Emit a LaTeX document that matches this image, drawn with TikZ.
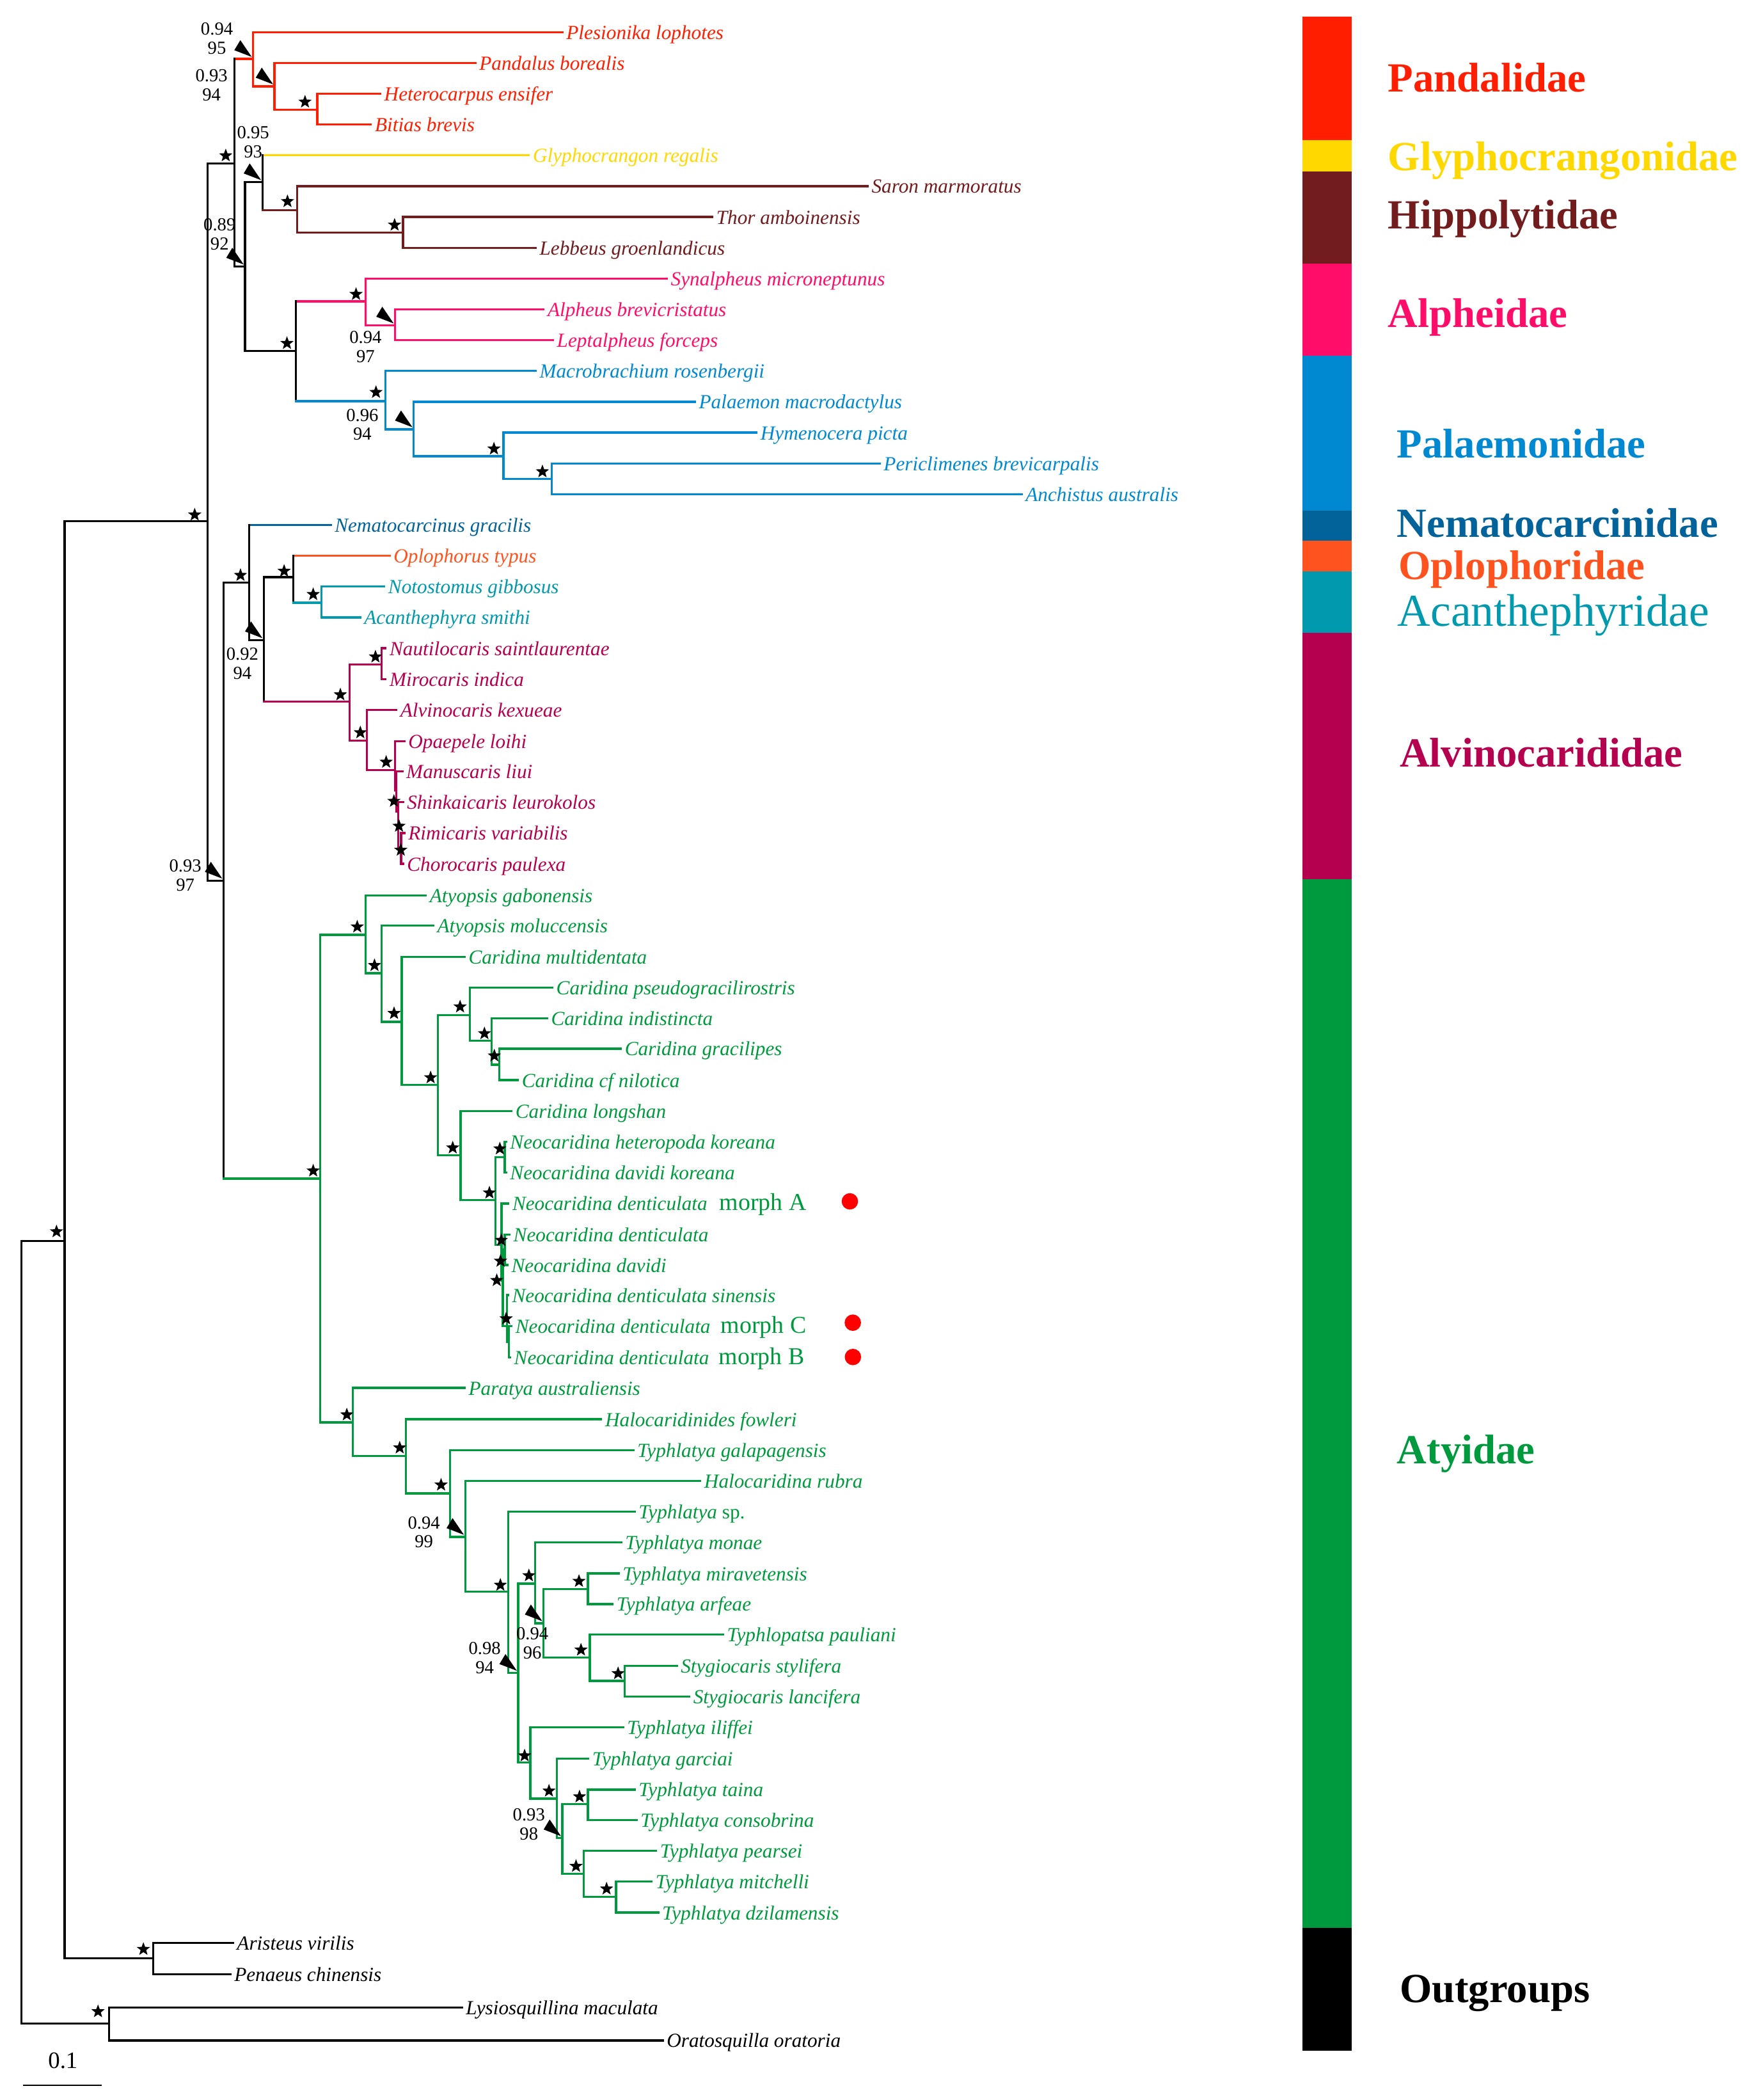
\documentclass[tikz,border=0pt]{standalone}
\usepackage{fontspec}
\setmainfont{Liberation Serif}
\usepackage{tikz}
\usetikzlibrary{shapes.geometric}
\definecolor{cpan}{HTML}{FF1E00}
\definecolor{cgly}{HTML}{FFD800}
\definecolor{chip}{HTML}{731C1E}
\definecolor{calp}{HTML}{FF0D68}
\definecolor{cpal}{HTML}{0088D1}
\definecolor{cnem}{HTML}{016399}
\definecolor{copl}{HTML}{FF531F}
\definecolor{caca}{HTML}{0099AD}
\definecolor{calv}{HTML}{B5004F}
\definecolor{caty}{HTML}{009A3E}
\tikzstyle{branch}=[-, line width=0.9pt, line cap=rect]
\tikzstyle{leaf}=[anchor=west, inner sep=1.5pt, text height=0.8em, text depth=0.2em, font=\fontsize{8.5}{10}\selectfont\itshape]
\tikzstyle{bstar}=[star, star points=5, star point ratio=2.4, fill=black, draw=none, inner sep=0pt, minimum size=0.21cm]
\tikzstyle{supp}=[align=center, inner sep=0pt, font=\fontsize{7.8}{8.1}\selectfont]
\tikzstyle{wedge}=[fill=black]
\tikzstyle{family}=[anchor=base west, inner sep=0pt, font=\fontsize{17.6}{20}\selectfont\bfseries]
\tikzstyle{morph}=[anchor=west, inner sep=0pt, text height=0.8em, text depth=0.2em, font=\fontsize{10.3}{12}\selectfont, text=caty]
\tikzstyle{rdot}=[circle, fill=red, draw=none, inner sep=0pt, minimum size=0.245cm]
\pgfdeclarelayer{edgelayer}
\pgfdeclarelayer{nodelayer}
\pgfsetlayers{edgelayer,nodelayer,main}

\begin{document}
\begin{tikzpicture}[x=0.02cm, y=-0.02cm]
	\useasboundingbox (0,0) rectangle (1311,1568);
	\begin{pgfonlayer}{nodelayer}
		\coordinate (root) at (16, 1218);
		\coordinate (dec) at (48.2, 926.5);
		\coordinate (car) at (155, 389);
		\coordinate (up) at (175, 122);
		\coordinate (P1) at (189, 44);
		\coordinate (P2) at (205, 64.5);
		\coordinate (P3) at (237, 82);
		\coordinate (gh) at (183, 199);
		\coordinate (GH) at (196, 136);
		\coordinate (H1) at (222, 157);
		\coordinate (H2) at (301, 173.5);
		\coordinate (AP) at (221, 262);
		\coordinate (A1) at (273, 225);
		\coordinate (A2) at (295, 243);
		\coordinate (B1) at (288, 299.5);
		\coordinate (B2) at (309, 320.5);
		\coordinate (B3) at (376, 340.6);
		\coordinate (B4) at (412, 357.7);
		\coordinate (low) at (167, 657.5);
		\coordinate (L1) at (186, 435);
		\coordinate (L2) at (197, 478);
		\coordinate (O1) at (219, 431);
		\coordinate (O2) at (240, 450);
		\coordinate (V1) at (261, 524);
		\coordinate (V2) at (285, 496);
		\coordinate (V3) at (274, 553);
		\coordinate (R1) at (295, 575);
		\coordinate (R2) at (296, 590);
		\coordinate (R3) at (297.5, 606);
		\coordinate (R4) at (299.5, 633);
		\coordinate (T0) at (239, 880);
		\coordinate (T1) at (273, 698);
		\coordinate (T2) at (285, 726.6);
		\coordinate (T3) at (300, 763);
		\coordinate (T4) at (327, 810);
		\coordinate (C1) at (351, 758);
		\coordinate (C2) at (367, 777);
		\coordinate (C3) at (373, 795);
		\coordinate (K1) at (344, 862.5);
		\coordinate (K2) at (370, 896);
		\coordinate (K3) at (377, 864);
		\coordinate (D1) at (374.5, 929.6);
		\coordinate (D2) at (375.5, 956);
		\coordinate (D3) at (377, 933);
		\coordinate (D4) at (378.5, 990);
		\coordinate (D5) at (380, 1002);
		\coordinate (U1) at (263.5, 1062);
		\coordinate (U2) at (303, 1087);
		\coordinate (U3) at (336, 1115);
		\coordinate (U4) at (347.5, 1147.5);
		\coordinate (U5) at (379.5, 1188.5);
		\coordinate (W0) at (387, 1249);
		\coordinate (W1) at (399.5, 1182.4);
		\coordinate (W2) at (406, 1212);
		\coordinate (W3) at (439, 1186.6);
		\coordinate (W4) at (440.5, 1237.6);
		\coordinate (W5) at (466.5, 1255);
		\coordinate (X1) at (396, 1316);
		\coordinate (X2) at (416, 1343);
		\coordinate (X3) at (420, 1372.5);
		\coordinate (X4) at (439, 1347);
		\coordinate (X5) at (436, 1399);
		\coordinate (X6) at (460, 1416.4);
		\coordinate (Q1) at (114.3, 1462);
		\coordinate (S1) at (81.5, 1511);

		\node [style=leaf, text=cpan] (ple) at (420, 24) {Plesionika lophotes};
		\node [style=leaf, text=cpan] (pan) at (355, 47) {Pandalus borealis};
		\node [style=leaf, text=cpan] (het) at (284, 70) {Heterocarpus ensifer};
		\node [style=leaf, text=cpan] (bit) at (277, 93) {Bitias brevis};
		\node [style=leaf, text=cgly] (gly) at (395, 116) {Glyphocrangon regalis};
		\node [style=leaf, text=chip] (sar) at (648, 139) {Saron marmoratus};
		\node [style=leaf, text=chip] (tho) at (532, 162) {Thor amboinensis};
		\node [style=leaf, text=chip] (leb) at (400, 185) {Lebbeus groenlandicus};
		\node [style=leaf, text=calp] (syn) at (498, 208) {Synalpheus microneptunus};
		\node [style=leaf, text=calp] (alp) at (406, 231) {Alpheus brevicristatus};
		\node [style=leaf, text=calp] (lep) at (413, 254) {Leptalpheus forceps};
		\node [style=leaf, text=cpal] (mac) at (400, 277) {Macrobrachium rosenbergii};
		\node [style=leaf, text=cpal] (pal) at (519, 300) {Palaemon macrodactylus};
		\node [style=leaf, text=cpal] (hym) at (565, 323) {Hymenocera picta};
		\node [style=leaf, text=cpal] (per) at (657, 346) {Periclimenes brevicarpalis};
		\node [style=leaf, text=cpal] (anc) at (763, 369) {Anchistus australis};
		\node [style=leaf, text=cnem] (nem) at (247, 392) {Nematocarcinus gracilis};
		\node [style=leaf, text=copl] (opl) at (291, 415) {Oplophorus typus};
		\node [style=leaf, text=caca] (nog) at (287, 438) {Notostomus gibbosus};
		\node [style=leaf, text=caca] (aca) at (269, 461) {Acanthephyra smithi};
		\node [style=leaf, text=calv] (nau) at (288, 484) {Nautilocaris saintlaurentae};
		\node [style=leaf, text=calv] (mir) at (288, 507) {Mirocaris indica};
		\node [style=leaf, text=calv] (alv) at (296, 530) {Alvinocaris kexueae};
		\node [style=leaf, text=calv] (opa) at (302, 553.5) {Opaepele loihi};
		\node [style=leaf, text=calv] (man) at (300.5, 576) {Manuscaris liui};
		\node [style=leaf, text=calv] (shi) at (301, 599) {Shinkaicaris leurokolos};
		\node [style=leaf, text=calv] (rim) at (302, 622) {Rimicaris variabilis};
		\node [style=leaf, text=calv] (cho) at (301, 645) {Chorocaris paulexa};
		\node [style=leaf, text=caty] (agb) at (318, 668.5) {Atyopsis gabonensis};
		\node [style=leaf, text=caty] (amo) at (323.6, 691) {Atyopsis moluccensis};
		\node [style=leaf, text=caty] (cmu) at (347, 714.5) {Caridina multidentata};
		\node [style=leaf, text=caty] (cps) at (412.5, 737.5) {Caridina pseudogracilirostris};
		\node [style=leaf, text=caty] (cin) at (408.6, 760.5) {Caridina indistincta};
		\node [style=leaf, text=caty] (cgr) at (463.7, 783) {Caridina gracilipes};
		\node [style=leaf, text=caty] (cni) at (386.8, 806.5) {Caridina cf nilotica};
		\node [style=leaf, text=caty] (clo) at (382, 829.5) {Caridina longshan};
		\node [style=leaf, text=caty] (nhk) at (378, 852.5) {Neocaridina heteropoda koreana};
		\node [style=leaf, text=caty] (ndk) at (378, 875.5) {Neocaridina davidi koreana};
		\node [style=leaf, text=caty] (nma) at (379.7, 898.6) {Neocaridina denticulata};
		\node [style=leaf, text=caty] (nde) at (380.5, 921.7) {Neocaridina denticulata};
		\node [style=leaf, text=caty] (ndv) at (379, 944.5) {Neocaridina davidi};
		\node [style=leaf, text=caty] (nds) at (379.5, 967) {Neocaridina denticulata sinensis};
		\node [style=leaf, text=caty] (nmc) at (382, 990) {Neocaridina denticulata};
		\node [style=leaf, text=caty] (nmb) at (381, 1013.5) {Neocaridina denticulata};
		\node [style=leaf, text=caty] (par) at (347, 1036.3) {Paratya australiensis};
		\node [style=leaf, text=caty] (hfo) at (449, 1059.7) {Halocaridinides fowleri};
		\node [style=leaf, text=caty] (tga) at (473, 1082.8) {Typhlatya galapagensis};
		\node [style=leaf, text=caty] (hru) at (523, 1105.6) {Halocaridina rubra};
		\node [style=leaf, text=caty] (tsp) at (474, 1128.8) {Typhlatya {\upshape sp.}};
		\node [style=leaf, text=caty] (tmo) at (464, 1151.7) {Typhlatya monae};
		\node [style=leaf, text=caty] (tmi) at (462, 1174.8) {Typhlatya miravetensis};
		\node [style=leaf, text=caty] (tar) at (457.5, 1197.7) {Typhlatya arfeae};
		\node [style=leaf, text=caty] (tpa) at (540, 1220.5) {Typhlopatsa pauliani};
		\node [style=leaf, text=caty] (sst) at (505.5, 1243.8) {Stygiocaris stylifera};
		\node [style=leaf, text=caty] (sla) at (514.8, 1266.8) {Stygiocaris lancifera};
		\node [style=leaf, text=caty] (til) at (465.4, 1289.8) {Typhlatya iliffei};
		\node [style=leaf, text=caty] (tgc) at (439.4, 1313) {Typhlatya garciai};
		\node [style=leaf, text=caty] (tta) at (474, 1336.2) {Typhlatya taina};
		\node [style=leaf, text=caty] (tco) at (475.4, 1359) {Typhlatya consobrina};
		\node [style=leaf, text=caty] (tpe) at (490, 1382) {Typhlatya pearsei};
		\node [style=leaf, text=caty] (tmt) at (486.7, 1404.8) {Typhlatya mitchelli};
		\node [style=leaf, text=caty] (tdz) at (491.6, 1428) {Typhlatya dzilamensis};
		\node [style=leaf] (ari) at (174, 1450.8) {Aristeus virilis};
		\node [style=leaf] (pen) at (172, 1474) {Penaeus chinensis};
		\node [style=leaf] (lys) at (345, 1499) {Lysiosquillina maculata};
		\node [style=leaf] (ora) at (495, 1523.5) {Oratosquilla oratoria};

		\node [style=morph] (mA) at (537, 898.6) {morph A};
		\node [style=morph] (mC) at (538, 990) {morph C};
		\node [style=morph] (mB) at (536.5, 1013.5) {morph B};
		\node [style=rdot] (dA) at (634.7, 897) {};
		\node [style=rdot] (dC) at (636.9, 987.6) {};
		\node [style=rdot] (dB) at (637, 1013.2) {};

		\node [style=bstar] (s-dec) at (42.2, 919.6) {};
		\node [style=bstar] (s-car) at (145.4, 384.4) {};
		\node [style=bstar] (s-up) at (168.6, 116.2) {};
		\node [style=bstar] (s-P3) at (227.8, 76.1) {};
		\node [style=bstar] (s-H1) at (214.7, 150.4) {};
		\node [style=bstar] (s-H2) at (294.7, 168) {};
		\node [style=bstar] (s-AP) at (214.3, 256.3) {};
		\node [style=bstar] (s-A1) at (265.9, 219.7) {};
		\node [style=bstar] (s-B1) at (280.8, 292.9) {};
		\node [style=bstar] (s-B3) at (368.9, 335.1) {};
		\node [style=bstar] (s-B4) at (405.1, 352.1) {};
		\node [style=bstar] (s-L1) at (179.6, 429.5) {};
		\node [style=bstar] (s-O1) at (212.2, 426.4) {};
		\node [style=bstar] (s-O2) at (233.9, 443.8) {};
		\node [style=bstar] (s-V1) at (254.2, 518.7) {};
		\node [style=bstar] (s-V2) at (280.4, 490.4) {};
		\node [style=bstar] (s-V3) at (269.1, 547) {};
		\node [style=bstar] (s-R1) at (288.4, 569) {};
		\node [style=bstar] (s-R2) at (294.2, 598.2) {};
		\node [style=bstar] (s-R3) at (298, 616.8) {};
		\node [style=bstar] (s-R4) at (299.3, 634.7) {};
		\node [style=bstar] (s-T0) at (233.9, 874.2) {};
		\node [style=bstar] (s-T1) at (266.8, 692) {};
		\node [style=bstar] (s-T2) at (279.7, 720.8) {};
		\node [style=bstar] (s-T3) at (294.3, 756.6) {};
		\node [style=bstar] (s-T4) at (321.6, 804.6) {};
		\node [style=bstar] (s-C1) at (343.6, 751.7) {};
		\node [style=bstar] (s-C2) at (361.8, 771.7) {};
		\node [style=bstar] (s-C3) at (369.2, 788.3) {};
		\node [style=bstar] (s-K1) at (338.1, 857) {};
		\node [style=bstar] (s-K2) at (365.5, 890.6) {};
		\node [style=bstar] (s-K3) at (373.3, 857.7) {};
		\node [style=bstar] (s-D1) at (374.4, 926) {};
		\node [style=bstar] (s-D3) at (373.8, 941.6) {};
		\node [style=bstar] (s-D2) at (371, 956) {};
		\node [style=bstar] (s-D4) at (378, 984.6) {};
		\node [style=bstar] (s-U1) at (259, 1056.3) {};
		\node [style=bstar] (s-U2) at (298.5, 1081) {};
		\node [style=bstar] (s-U3) at (329.4, 1108.7) {};
		\node [style=bstar] (s-U5) at (373.7, 1183.5) {};
		\node [style=bstar] (s-W1) at (395, 1176.4) {};
		\node [style=bstar] (s-W3) at (432.4, 1180.6) {};
		\node [style=bstar] (s-W4) at (433.9, 1231.9) {};
		\node [style=bstar] (s-W5) at (461.6, 1249.5) {};
		\node [style=bstar] (s-X1) at (391.8, 1310.9) {};
		\node [style=bstar] (s-X2) at (410, 1337.2) {};
		\node [style=bstar] (s-X4) at (432.8, 1341.5) {};
		\node [style=bstar] (s-X5) at (430.2, 1393.4) {};
		\node [style=bstar] (s-X6) at (453, 1410.3) {};
		\node [style=bstar] (s-Q1) at (107.1, 1455.4) {};
		\node [style=bstar] (s-S1) at (73.2, 1501.9) {};

		\fill [style=wedge] ([shift={(-9.5,-14)}]P1) -- ([shift={(-14,-6.5)}]P1) -- ([shift={(-1,-1.5)}]P1) -- cycle;
		\fill [style=wedge] ([shift={(-9.5,-14)}]P2) -- ([shift={(-14,-6.5)}]P2) -- ([shift={(-1,-1.5)}]P2) -- cycle;
		\fill [style=wedge] ([shift={(-9.5,-14)}]GH) -- ([shift={(-14,-6.5)}]GH) -- ([shift={(-1,-1.5)}]GH) -- cycle;
		\fill [style=wedge] ([shift={(-9.5,-14)}]gh) -- ([shift={(-14,-6.5)}]gh) -- ([shift={(-1,-1.5)}]gh) -- cycle;
		\fill [style=wedge] ([shift={(-9.5,-14)}]A2) -- ([shift={(-14,-6.5)}]A2) -- ([shift={(-1,-1.5)}]A2) -- cycle;
		\fill [style=wedge] ([shift={(-9.5,-14)}]B2) -- ([shift={(-14,-6.5)}]B2) -- ([shift={(-1,-1.5)}]B2) -- cycle;
		\fill [style=wedge] ([shift={(-9.5,-14)}]L2) -- ([shift={(-14,-6.5)}]L2) -- ([shift={(-1,-1.5)}]L2) -- cycle;
		\fill [style=wedge] ([shift={(-9.5,-14)}]low) -- ([shift={(-14,-6.5)}]low) -- ([shift={(-1,-1.5)}]low) -- cycle;
		\fill [style=wedge] ([shift={(-9.5,-14)}]U4) -- ([shift={(-14,-6.5)}]U4) -- ([shift={(-1,-1.5)}]U4) -- cycle;
		\fill [style=wedge] ([shift={(-9.5,-14)}]W0) -- ([shift={(-14,-6.5)}]W0) -- ([shift={(-1,-1.5)}]W0) -- cycle;
		\fill [style=wedge] ([shift={(-9.5,-14)}]W2) -- ([shift={(-14,-6.5)}]W2) -- ([shift={(-1,-1.5)}]W2) -- cycle;
		\fill [style=wedge] ([shift={(-9.5,-14)}]X3) -- ([shift={(-14,-6.5)}]X3) -- ([shift={(-1,-1.5)}]X3) -- cycle;

		\node [style=supp] (pp-P1) at (162, 28.6) {0.94\\95};
		\node [style=supp] (pp-P2) at (158, 63.5) {0.93\\94};
		\node [style=supp] (pp-GH) at (189, 106) {0.95\\93};
		\node [style=supp] (pp-gh) at (164, 175) {0.89\\92};
		\node [style=supp] (pp-A2) at (273, 259) {0.94\\97};
		\node [style=supp] (pp-B2) at (270.6, 317) {0.96\\94};
		\node [style=supp] (pp-L2) at (181, 495.6) {0.92\\94};
		\node [style=supp] (pp-low) at (138.4, 653.5) {0.93\\97};
		\node [style=supp] (pp-U4) at (316.6, 1144) {0.94\\99};
		\node [style=supp] (pp-W0) at (362, 1238) {0.98\\94};
		\node [style=supp] (pp-W2) at (397.6, 1226.8) {0.94\\96};
		\node [style=supp] (pp-X3) at (395, 1362.3) {0.93\\98};

		\coordinate (sb-l) at (17.2, 1557);
		\coordinate (sb-r) at (76, 1557);
		\node [font=\fontsize{10}{12}\selectfont, inner sep=0pt] (sb-t) at (47, 1538.6) {0.1};
	\end{pgfonlayer}
	\begin{pgfonlayer}{edgelayer}
		\draw [style=branch] (dec) -| (root |- S1) -- (S1);
		\draw [style=branch] (car) -| (dec |- Q1) -- (Q1);
		\draw [style=branch] (up) -| (car |- low) -- (low);
		\draw [style=branch, draw=cpan] (P1) -- (up |- P1);
		\draw [style=branch] (up |- P1) -- (up |- gh) -- (gh);
		\draw [style=branch, draw=cpan] (ple) -| (P1 |- P2) -- (P2);
		\draw [style=branch, draw=cpan] (pan) -| (P2 |- P3) -- (P3);
		\draw [style=branch, draw=cpan] (het) -| (P3 |- bit) -- (bit);
		\draw [style=branch] (GH) -| (gh |- AP) -- (AP);
		\draw [style=branch, draw=cgly] (gly) -- (GH |- gly);
		\draw [style=branch] (GH |- gly) -- (GH |- H1);
		\draw [style=branch, draw=chip] (GH |- H1) -- (H1);
		\draw [style=branch, draw=chip] (sar) -| (H1 |- H2) -- (H2);
		\draw [style=branch, draw=chip] (tho) -| (H2 |- leb) -- (leb);
		\draw [style=branch, draw=calp] (A1) -- (AP |- A1);
		\draw [style=branch] (AP |- A1) -- (AP |- B1);
		\draw [style=branch, draw=cpal] (AP |- B1) -- (B1);
		\draw [style=branch, draw=calp] (syn) -| (A1 |- A2) -- (A2);
		\draw [style=branch, draw=calp] (alp) -| (A2 |- lep) -- (lep);
		\draw [style=branch, draw=cpal] (mac) -| (B1 |- B2) -- (B2);
		\draw [style=branch, draw=cpal] (pal) -| (B2 |- B3) -- (B3);
		\draw [style=branch, draw=cpal] (hym) -| (B3 |- B4) -- (B4);
		\draw [style=branch, draw=cpal] (per) -| (B4 |- anc) -- (anc);
		\draw [style=branch] (L1) -| (low |- T0);
		\draw [style=branch, draw=caty] (low |- T0) -- (T0);
		\draw [style=branch, draw=cnem] (nem) -- (L1 |- nem);
		\draw [style=branch] (L1 |- nem) -- (L1 |- L2) -- (L2);
		\draw [style=branch] (O1) -| (L2 |- V1);
		\draw [style=branch, draw=calv] (L2 |- V1) -- (V1);
		\draw [style=branch, draw=copl] (opl) -- (O1 |- opl);
		\draw [style=branch] (O1 |- opl) -- (O1 |- O2);
		\draw [style=branch, draw=caca] (O1 |- O2) -- (O2);
		\draw [style=branch, draw=caca] (nog) -| (O2 |- aca) -- (aca);
		\draw [style=branch, draw=calv] (V2) -| (V1 |- V3) -- (V3);
		\draw [style=branch, draw=calv] (nau) -| (V2 |- mir) -- (mir);
		\draw [style=branch, draw=calv] (alv) -| (V3 |- R1) -- (R1);
		\draw [style=branch, draw=calv] (opa) -| (R1 |- R2) -- (R2);
		\draw [style=branch, draw=calv] (man) -| (R2 |- R3) -- (R3);
		\draw [style=branch, draw=calv] (shi) -| (R3 |- R4) -- (R4);
		\draw [style=branch, draw=calv] (rim) -| (R4 |- cho) -- (cho);
		\draw [style=branch, draw=caty] (T1) -| (T0 |- U1) -- (U1);
		\draw [style=branch, draw=caty] (agb) -| (T1 |- T2) -- (T2);
		\draw [style=branch, draw=caty] (amo) -| (T2 |- T3) -- (T3);
		\draw [style=branch, draw=caty] (cmu) -| (T3 |- T4) -- (T4);
		\draw [style=branch, draw=caty] (C1) -| (T4 |- K1) -- (K1);
		\draw [style=branch, draw=caty] (cps) -| (C1 |- C2) -- (C2);
		\draw [style=branch, draw=caty] (cin) -| (C2 |- C3) -- (C3);
		\draw [style=branch, draw=caty] (cgr) -| (C3 |- cni) -- (cni);
		\draw [style=branch, draw=caty] (clo) -| (K1 |- K2) -- (K2);
		\draw [style=branch, draw=caty] (K3) -| (K2 |- D1) -- (D1);
		\draw [style=branch, draw=caty] (nhk) -| (K3 |- ndk) -- (ndk);
		\draw [style=branch, draw=caty] (nma) -| (D1 |- D2) -- (D2);
		\draw [style=branch, draw=caty] (D3) -| (D2 |- D4) -- (D4);
		\draw [style=branch, draw=caty] (nde) -| (D3 |- ndv) -- (ndv);
		\draw [style=branch, draw=caty] (nds) -| (D4 |- D5) -- (D5);
		\draw [style=branch, draw=caty] (nmc) -| (D5 |- nmb) -- (nmb);
		\draw [style=branch, draw=caty] (par) -| (U1 |- U2) -- (U2);
		\draw [style=branch, draw=caty] (hfo) -| (U2 |- U3) -- (U3);
		\draw [style=branch, draw=caty] (tga) -| (U3 |- U4) -- (U4);
		\draw [style=branch, draw=caty] (hru) -| (U4 |- U5) -- (U5);
		\draw [style=branch, draw=caty] (tsp) -| (U5 |- W0) -- (W0);
		\draw [style=branch, draw=caty] (W1) -| (W0 |- X1) -- (X1);
		\draw [style=branch, draw=caty] (tmo) -| (W1 |- W2) -- (W2);
		\draw [style=branch, draw=caty] (W3) -| (W2 |- W4) -- (W4);
		\draw [style=branch, draw=caty] (tmi) -| (W3 |- tar) -- (tar);
		\draw [style=branch, draw=caty] (tpa) -| (W4 |- W5) -- (W5);
		\draw [style=branch, draw=caty] (sst) -| (W5 |- sla) -- (sla);
		\draw [style=branch, draw=caty] (til) -| (X1 |- X2) -- (X2);
		\draw [style=branch, draw=caty] (tgc) -| (X2 |- X3) -- (X3);
		\draw [style=branch, draw=caty] (X4) -| (X3 |- X5) -- (X5);
		\draw [style=branch, draw=caty] (tta) -| (X4 |- tco) -- (tco);
		\draw [style=branch, draw=caty] (tpe) -| (X5 |- X6) -- (X6);
		\draw [style=branch, draw=caty] (tmt) -| (X6 |- tdz) -- (tdz);
		\draw [style=branch] (ari) -| (Q1 |- pen) -- (pen);
		\draw [style=branch] (lys) -| (S1 |- ora) -- (ora);
		\draw [line width=0.5pt] (sb-l) -- (sb-r);
	\end{pgfonlayer}
	\fill [cpan] (972.6, 12.3) rectangle (1009.7, 104.6);
	\fill [cgly] (972.6, 104.6) rectangle (1009.7, 128.1);
	\fill [chip] (972.6, 128.1) rectangle (1009.7, 196.7);
	\fill [calp] (972.6, 196.7) rectangle (1009.7, 265.7);
	\fill [cpal] (972.6, 265.7) rectangle (1009.7, 381.2);
	\fill [cnem] (972.6, 381.2) rectangle (1009.7, 403.7);
	\fill [copl] (972.6, 403.7) rectangle (1009.7, 426.5);
	\fill [caca] (972.6, 426.5) rectangle (1009.7, 472.4);
	\fill [calv] (972.6, 472.4) rectangle (1009.7, 656.4);
	\fill [caty] (972.6, 656.4) rectangle (1009.7, 1439.5);
	\fill [black] (972.6, 1439.5) rectangle (1009.7, 1531.3);
	\node [style=family, text=cpan] (fPan) at (1036.3, 68.5) {Pandalidae};
	\node [style=family, text=cgly] (fGly) at (1036.3, 127.4) {Glyphocrangonidae};
	\node [style=family, text=chip] (fHip) at (1036.3, 171) {Hippolytidae};
	\node [style=family, text=calp] (fAlp) at (1036.3, 244.6) {Alpheidae};
	\node [style=family, text=cpal] (fPal) at (1043, 341.7) {Palaemonidae};
	\node [style=family, text=cnem] (fNem) at (1043, 401) {Nematocarcinidae};
	\node [style=family, text=copl] (fOpl) at (1044.3, 432.8) {Oplophoridae};
	\node [style=family, text=caca, font=\fontsize{19.4}{22}\selectfont] (fAca) at (1043.5, 467.3) {Acanthephyridae};
	\node [style=family, text=calv] (fAlv) at (1045, 572.8) {Alvinocarididae};
	\node [style=family, text=caty] (fAty) at (1043, 1093) {Atyidae};
	\node [style=family] (fOut) at (1045, 1495.3) {Outgroups};
\end{tikzpicture}
\end{document}
